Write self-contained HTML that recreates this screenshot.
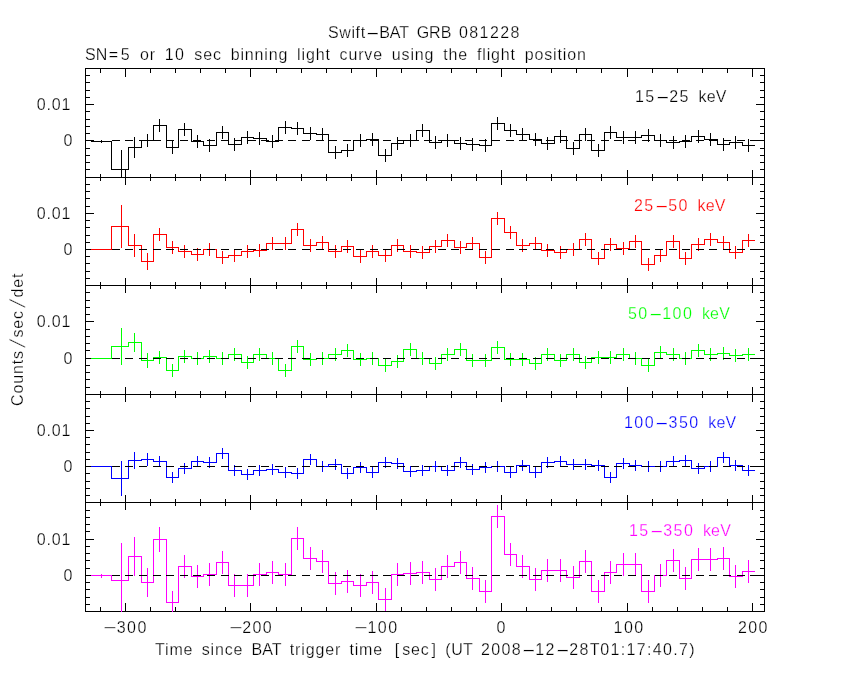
<!DOCTYPE html>
<html><head><meta charset="utf-8"><title>Swift-BAT GRB 081228</title>
<style>
html,body{margin:0;padding:0;background:#fff}
body{width:850px;height:680px;position:relative;overflow:hidden;font-family:"Liberation Sans",sans-serif}
.t{-webkit-text-stroke:0.25px #fff;position:absolute;white-space:pre;font-size:16px;line-height:12px;height:12px;color:#000}
.c{text-align:center}
.d{letter-spacing:1.45px}
.b .d{letter-spacing:1.32px}
.u{letter-spacing:0}
.q{margin:0 1.6px}
.bl{margin:0 2px 0 3.5px}
.br{margin:0 0 0 2px}
.sl{display:inline-block;width:12.6px;text-align:center;letter-spacing:0;transform:skewX(-16deg) scaleY(1.35)}
.h{display:inline-block;width:13.5px;text-align:center;letter-spacing:0;transform:scaleX(2.7)}
.m{transform:scaleX(1.4)}
.r .d{letter-spacing:0.9px}
.r .d:last-child{margin-right:-0.9px}
</style></head><body>
<svg width="850" height="680" viewBox="0 0 850 680" shape-rendering="crispEdges" style="position:absolute;left:0;top:0">
<rect width="850" height="680" fill="#fff"/>
<path d="M85 169.5H90M765 169.5H760M85 162.5H90M765 162.5H760M85 155.5H90M765 155.5H760M85 148.5H90M765 148.5H760M85 140.5H94M765 140.5H756M85 133.5H90M765 133.5H760M85 126.5H90M765 126.5H760M85 119.5H90M765 119.5H760M85 111.5H90M765 111.5H760M85 104.5H94M765 104.5H756M85 97.5H90M765 97.5H760M85 90.5H90M765 90.5H760M85 82.5H90M765 82.5H760M85 75.5H90M765 75.5H760M100.5 68V73M125.5 68V77M150.5 68V73M175.5 68V73M200.5 68V73M225.5 68V73M250.5 68V77M276.5 68V73M301.5 68V73M326.5 68V73M351.5 68V73M376.5 68V77M401.5 68V73M426.5 68V73M451.5 68V73M476.5 68V73M501.5 68V77M526.5 68V73M551.5 68V73M576.5 68V73M601.5 68V73M627.5 68V77M652.5 68V73M677.5 68V73M702.5 68V73M727.5 68V73M752.5 68V77M85 68.5H765" fill="none" stroke="#000" stroke-width="1"/>
<path d="M85 278.5H90M765 278.5H760M85 271.5H90M765 271.5H760M85 263.5H90M765 263.5H760M85 256.5H90M765 256.5H760M85 249.5H94M765 249.5H756M85 242.5H90M765 242.5H760M85 235.5H90M765 235.5H760M85 227.5H90M765 227.5H760M85 220.5H90M765 220.5H760M85 213.5H94M765 213.5H756M85 206.5H90M765 206.5H760M85 198.5H90M765 198.5H760M85 191.5H90M765 191.5H760M85 184.5H90M765 184.5H760M100.5 174V181M125.5 170V185M150.5 174V181M175.5 174V181M200.5 174V181M225.5 174V181M250.5 170V185M276.5 174V181M301.5 174V181M326.5 174V181M351.5 174V181M376.5 170V185M401.5 174V181M426.5 174V181M451.5 174V181M476.5 174V181M501.5 170V185M526.5 174V181M551.5 174V181M576.5 174V181M601.5 174V181M627.5 170V185M652.5 174V181M677.5 174V181M702.5 174V181M727.5 174V181M752.5 170V185M85 177.5H765" fill="none" stroke="#000" stroke-width="1"/>
<path d="M85 387.5H90M765 387.5H760M85 379.5H90M765 379.5H760M85 372.5H90M765 372.5H760M85 365.5H90M765 365.5H760M85 358.5H94M765 358.5H756M85 350.5H90M765 350.5H760M85 343.5H90M765 343.5H760M85 336.5H90M765 336.5H760M85 329.5H90M765 329.5H760M85 321.5H94M765 321.5H756M85 314.5H90M765 314.5H760M85 307.5H90M765 307.5H760M85 300.5H90M765 300.5H760M85 292.5H90M765 292.5H760M100.5 282V289M125.5 278V293M150.5 282V289M175.5 282V289M200.5 282V289M225.5 282V289M250.5 278V293M276.5 282V289M301.5 282V289M326.5 282V289M351.5 282V289M376.5 278V293M401.5 282V289M426.5 282V289M451.5 282V289M476.5 282V289M501.5 278V293M526.5 282V289M551.5 282V289M576.5 282V289M601.5 282V289M627.5 278V293M652.5 282V289M677.5 282V289M702.5 282V289M727.5 282V289M752.5 278V293M85 285.5H765" fill="none" stroke="#000" stroke-width="1"/>
<path d="M85 495.5H90M765 495.5H760M85 488.5H90M765 488.5H760M85 481.5H90M765 481.5H760M85 473.5H90M765 473.5H760M85 466.5H94M765 466.5H756M85 459.5H90M765 459.5H760M85 452.5H90M765 452.5H760M85 444.5H90M765 444.5H760M85 437.5H90M765 437.5H760M85 430.5H94M765 430.5H756M85 423.5H90M765 423.5H760M85 416.5H90M765 416.5H760M85 408.5H90M765 408.5H760M85 401.5H90M765 401.5H760M100.5 391V398M125.5 387V402M150.5 391V398M175.5 391V398M200.5 391V398M225.5 391V398M250.5 387V402M276.5 391V398M301.5 391V398M326.5 391V398M351.5 391V398M376.5 387V402M401.5 391V398M426.5 391V398M451.5 391V398M476.5 391V398M501.5 387V402M526.5 391V398M551.5 391V398M576.5 391V398M601.5 391V398M627.5 387V402M652.5 391V398M677.5 391V398M702.5 391V398M727.5 391V398M752.5 387V402M85 394.5H765" fill="none" stroke="#000" stroke-width="1"/>
<path d="M85 604.5H90M765 604.5H760M85 597.5H90M765 597.5H760M85 589.5H90M765 589.5H760M85 582.5H90M765 582.5H760M85 575.5H94M765 575.5H756M85 568.5H90M765 568.5H760M85 560.5H90M765 560.5H760M85 553.5H90M765 553.5H760M85 546.5H90M765 546.5H760M85 539.5H94M765 539.5H756M85 531.5H90M765 531.5H760M85 524.5H90M765 524.5H760M85 517.5H90M765 517.5H760M85 510.5H90M765 510.5H760M100.5 499V506M100.5 612V607M125.5 495V510M125.5 612V603M150.5 499V506M150.5 612V607M175.5 499V506M175.5 612V607M200.5 499V506M200.5 612V607M225.5 499V506M225.5 612V607M250.5 495V510M250.5 612V603M276.5 499V506M276.5 612V607M301.5 499V506M301.5 612V607M326.5 499V506M326.5 612V607M351.5 499V506M351.5 612V607M376.5 495V510M376.5 612V603M401.5 499V506M401.5 612V607M426.5 499V506M426.5 612V607M451.5 499V506M451.5 612V607M476.5 499V506M476.5 612V607M501.5 495V510M501.5 612V603M526.5 499V506M526.5 612V607M551.5 499V506M551.5 612V607M576.5 499V506M576.5 612V607M601.5 499V506M601.5 612V607M627.5 495V510M627.5 612V603M652.5 499V506M652.5 612V607M677.5 499V506M677.5 612V607M702.5 499V506M702.5 612V607M727.5 499V506M727.5 612V607M752.5 495V510M752.5 612V603M85 502.5H765M85 611.5H765" fill="none" stroke="#000" stroke-width="1"/>
<path d="M85.5 68V612M764.5 68V612" fill="none" stroke="#000" stroke-width="1"/>
<clipPath id="c0"><rect x="85" y="68" width="680" height="110"/></clipPath>
<path d="M91.0 141.5H111.5V169.5H128.5V147.5H141.5V140.5H153.5V125.5H166.5V147.5H178.5V129.5H191.5V141.5H203.5V145.5H216.5V132.5H228.5V144.5H241.5V137.5H253.5V138.5H266.5V141.5H278.5V127.5H291.5V128.5H303.5V133.5H316.5V134.5H328.5V152.5H341.5V150.5H353.5V140.5H366.5V139.5H378.5V155.5H391.5V143.5H403.5V140.5H416.5V130.5H429.5V142.5H441.5V140.5H454.5V143.5H466.5V144.5H479.5V145.5H491.5V123.5H504.5V130.5H516.5V134.5H529.5V139.5H541.5V143.5H554.5V136.5H566.5V148.5H579.5V134.5H591.5V150.5H604.5V132.5H616.5V137.5H629.5V137.5H641.5V135.5H654.5V140.5H666.5V142.5H679.5V141.5H691.5V136.5H704.5V139.5H717.5V144.5H729.5V142.5H742.5V145.5H755.0" fill="none" stroke="#000000" stroke-width="1" clip-path="url(#c0)"/>
<path d="M101.5 140V143M121.5 150V189M134.5 137V158M147.5 134V147M159.5 119V132M172.5 141V154M184.5 123V136M197.5 135V148M209.5 139V152M222.5 126V139M234.5 138V151M247.5 131V144M259.5 132V145M272.5 135V148M285.5 121V134M297.5 122V135M310.5 127V140M322.5 128V141M335.5 146V159M347.5 144V157M360.5 134V147M372.5 133V146M385.5 149V162M397.5 137V150M410.5 134V147M422.5 124V137M435.5 136V149M447.5 134V147M460.5 137V150M472.5 138V151M485.5 139V152M497.5 117V130M510.5 124V137M522.5 128V141M535.5 133V146M547.5 137V150M560.5 130V143M573.5 142V155M585.5 128V141M598.5 144V157M610.5 126V139M623.5 131V144M635.5 131V144M648.5 129V142M660.5 134V147M673.5 136V149M685.5 135V148M698.5 130V143M710.5 133V146M723.5 138V151M735.5 136V149M748.5 139V152" fill="none" stroke="#000000" stroke-width="1" clip-path="url(#c0)"/>
<path d="M112 140.5H120M125 140.5H133M139 140.5H147M153 140.5H161M166 140.5H174M180 140.5H188M193 140.5H201M207 140.5H215M221 140.5H229M234 140.5H242M248 140.5H256M261 140.5H269M275 140.5H283M288 140.5H296M302 140.5H310M316 140.5H324M329 140.5H337M343 140.5H351M356 140.5H364M370 140.5H378M383 140.5H391M397 140.5H405M411 140.5H419M424 140.5H432M438 140.5H446M451 140.5H459M465 140.5H473M479 140.5H487M492 140.5H500M506 140.5H514M519 140.5H527M533 140.5H541M546 140.5H554M560 140.5H568M574 140.5H582M587 140.5H595M601 140.5H609M614 140.5H622M628 140.5H636M642 140.5H650M655 140.5H663M669 140.5H677M682 140.5H690M696 140.5H704M709 140.5H717M723 140.5H731M737 140.5H745M750 140.5H758M764 140.5H764" fill="none" stroke="#000" stroke-width="1"/>
<clipPath id="c1"><rect x="85" y="177" width="680" height="109"/></clipPath>
<path d="M91.0 249.5H111.5V226.5H128.5V245.5H141.5V261.5H153.5V234.5H166.5V247.5H178.5V251.5H191.5V254.5H203.5V249.5H216.5V257.5H228.5V255.5H241.5V251.5H253.5V250.5H266.5V243.5H278.5V243.5H291.5V229.5H303.5V245.5H316.5V242.5H328.5V251.5H341.5V246.5H353.5V256.5H366.5V251.5H378.5V255.5H391.5V245.5H403.5V251.5H416.5V252.5H429.5V246.5H441.5V240.5H454.5V247.5H466.5V243.5H479.5V257.5H491.5V218.5H504.5V232.5H516.5V245.5H529.5V243.5H541.5V250.5H554.5V252.5H566.5V249.5H579.5V239.5H591.5V258.5H604.5V244.5H616.5V248.5H629.5V241.5H641.5V264.5H654.5V255.5H666.5V241.5H679.5V258.5H691.5V244.5H704.5V239.5H717.5V242.5H729.5V252.5H742.5V240.5H755.0" fill="none" stroke="#ff0000" stroke-width="1" clip-path="url(#c1)"/>
<path d="M121.5 205V248M134.5 234V257M147.5 253V270M159.5 228V241M172.5 241V254M184.5 245V258M197.5 248V261M209.5 243V256M222.5 251V264M234.5 249V262M247.5 245V258M259.5 244V257M272.5 237V250M285.5 237V250M297.5 223V236M310.5 239V252M322.5 236V249M335.5 245V258M347.5 240V253M360.5 250V263M372.5 245V258M385.5 249V262M397.5 239V252M410.5 245V258M422.5 246V259M435.5 240V253M447.5 234V247M460.5 241V254M472.5 237V250M485.5 251V264M497.5 212V225M510.5 226V239M522.5 239V252M535.5 237V250M547.5 244V257M560.5 246V259M573.5 243V256M585.5 233V246M598.5 252V265M610.5 238V251M623.5 242V255M635.5 235V248M648.5 258V271M660.5 249V262M673.5 235V248M685.5 252V265M698.5 238V251M710.5 233V246M723.5 236V249M735.5 246V259M748.5 234V247" fill="none" stroke="#ff0000" stroke-width="1" clip-path="url(#c1)"/>
<path d="M112 249.5H120M125 249.5H133M139 249.5H147M153 249.5H161M166 249.5H174M180 249.5H188M193 249.5H201M207 249.5H215M221 249.5H229M234 249.5H242M248 249.5H256M261 249.5H269M275 249.5H283M288 249.5H296M302 249.5H310M316 249.5H324M329 249.5H337M343 249.5H351M356 249.5H364M370 249.5H378M383 249.5H391M397 249.5H405M411 249.5H419M424 249.5H432M438 249.5H446M451 249.5H459M465 249.5H473M479 249.5H487M492 249.5H500M506 249.5H514M519 249.5H527M533 249.5H541M546 249.5H554M560 249.5H568M574 249.5H582M587 249.5H595M601 249.5H609M614 249.5H622M628 249.5H636M642 249.5H650M655 249.5H663M669 249.5H677M682 249.5H690M696 249.5H704M709 249.5H717M723 249.5H731M737 249.5H745M750 249.5H758M764 249.5H764" fill="none" stroke="#000" stroke-width="1"/>
<clipPath id="c2"><rect x="85" y="285" width="680" height="110"/></clipPath>
<path d="M91.0 358.5H111.5V346.5H128.5V342.5H141.5V360.5H153.5V357.5H166.5V370.5H178.5V356.5H191.5V358.5H203.5V356.5H216.5V358.5H228.5V354.5H241.5V362.5H253.5V354.5H266.5V358.5H278.5V370.5H291.5V346.5H303.5V359.5H316.5V358.5H328.5V354.5H341.5V350.5H353.5V359.5H366.5V358.5H378.5V365.5H391.5V361.5H403.5V349.5H416.5V358.5H429.5V363.5H441.5V354.5H454.5V349.5H466.5V360.5H479.5V360.5H491.5V347.5H504.5V359.5H516.5V359.5H529.5V363.5H541.5V354.5H554.5V360.5H566.5V354.5H579.5V362.5H591.5V357.5H604.5V357.5H616.5V354.5H629.5V358.5H641.5V365.5H654.5V352.5H666.5V354.5H679.5V358.5H691.5V350.5H704.5V354.5H717.5V353.5H729.5V355.5H742.5V354.5H755.0" fill="none" stroke="#00ff00" stroke-width="1" clip-path="url(#c2)"/>
<path d="M121.5 328V365M134.5 333V352M147.5 353V368M159.5 351V364M172.5 364V377M184.5 350V363M197.5 352V365M209.5 350V363M222.5 352V365M234.5 348V361M247.5 356V369M259.5 348V361M272.5 352V365M285.5 364V377M297.5 340V353M310.5 353V366M322.5 352V365M335.5 348V361M347.5 344V357M360.5 353V366M372.5 352V365M385.5 359V372M397.5 355V368M410.5 343V356M422.5 352V365M435.5 357V370M447.5 348V361M460.5 343V356M472.5 354V367M485.5 354V367M497.5 341V354M510.5 353V366M522.5 353V366M535.5 357V370M547.5 348V361M560.5 354V367M573.5 348V361M585.5 356V369M598.5 351V364M610.5 351V364M623.5 348V361M635.5 352V365M648.5 359V372M660.5 346V359M673.5 348V361M685.5 352V365M698.5 344V357M710.5 348V361M723.5 347V360M735.5 349V362M748.5 348V361" fill="none" stroke="#00ff00" stroke-width="1" clip-path="url(#c2)"/>
<path d="M112 358.5H120M125 358.5H133M139 358.5H147M153 358.5H161M166 358.5H174M180 358.5H188M193 358.5H201M207 358.5H215M221 358.5H229M234 358.5H242M248 358.5H256M261 358.5H269M275 358.5H283M288 358.5H296M302 358.5H310M316 358.5H324M329 358.5H337M343 358.5H351M356 358.5H364M370 358.5H378M383 358.5H391M397 358.5H405M411 358.5H419M424 358.5H432M438 358.5H446M451 358.5H459M465 358.5H473M479 358.5H487M492 358.5H500M506 358.5H514M519 358.5H527M533 358.5H541M546 358.5H554M560 358.5H568M574 358.5H582M587 358.5H595M601 358.5H609M614 358.5H622M628 358.5H636M642 358.5H650M655 358.5H663M669 358.5H677M682 358.5H690M696 358.5H704M709 358.5H717M723 358.5H731M737 358.5H745M750 358.5H758M764 358.5H764" fill="none" stroke="#000" stroke-width="1"/>
<clipPath id="c3"><rect x="85" y="394" width="680" height="109"/></clipPath>
<path d="M91.0 466.5H111.5V478.5H128.5V460.5H141.5V459.5H153.5V461.5H166.5V477.5H178.5V468.5H191.5V461.5H203.5V462.5H216.5V453.5H228.5V470.5H241.5V474.5H253.5V470.5H266.5V469.5H278.5V472.5H291.5V473.5H303.5V459.5H316.5V466.5H328.5V464.5H341.5V473.5H353.5V467.5H366.5V472.5H378.5V462.5H391.5V463.5H403.5V471.5H416.5V470.5H429.5V466.5H441.5V470.5H454.5V462.5H466.5V469.5H479.5V467.5H491.5V466.5H504.5V472.5H516.5V465.5H529.5V472.5H541.5V462.5H554.5V461.5H566.5V464.5H579.5V464.5H591.5V465.5H604.5V477.5H616.5V463.5H629.5V465.5H641.5V466.5H654.5V466.5H666.5V461.5H679.5V460.5H691.5V468.5H704.5V466.5H717.5V457.5H729.5V465.5H742.5V470.5H755.0" fill="none" stroke="#0000ff" stroke-width="1" clip-path="url(#c3)"/>
<path d="M121.5 461V496M134.5 452V469M147.5 453V466M159.5 456V467M172.5 472V483M184.5 463V474M197.5 456V467M209.5 457V468M222.5 448V459M234.5 465V476M247.5 469V480M259.5 465V476M272.5 464V475M285.5 467V478M297.5 468V479M310.5 454V465M322.5 461V472M335.5 459V470M347.5 468V479M360.5 462V473M372.5 467V478M385.5 457V468M397.5 458V469M410.5 466V477M422.5 465V476M435.5 461V472M447.5 465V476M460.5 457V468M472.5 464V475M485.5 462V473M497.5 461V472M510.5 467V478M522.5 460V471M535.5 467V478M547.5 457V468M560.5 456V467M573.5 459V470M585.5 459V470M598.5 460V471M610.5 472V483M623.5 458V469M635.5 460V471M648.5 461V472M660.5 461V472M673.5 456V467M685.5 455V466M698.5 463V474M710.5 461V472M723.5 452V463M735.5 460V471M748.5 465V476" fill="none" stroke="#0000ff" stroke-width="1" clip-path="url(#c3)"/>
<path d="M112 466.5H120M125 466.5H133M139 466.5H147M153 466.5H161M166 466.5H174M180 466.5H188M193 466.5H201M207 466.5H215M221 466.5H229M234 466.5H242M248 466.5H256M261 466.5H269M275 466.5H283M288 466.5H296M302 466.5H310M316 466.5H324M329 466.5H337M343 466.5H351M356 466.5H364M370 466.5H378M383 466.5H391M397 466.5H405M411 466.5H419M424 466.5H432M438 466.5H446M451 466.5H459M465 466.5H473M479 466.5H487M492 466.5H500M506 466.5H514M519 466.5H527M533 466.5H541M546 466.5H554M560 466.5H568M574 466.5H582M587 466.5H595M601 466.5H609M614 466.5H622M628 466.5H636M642 466.5H650M655 466.5H663M669 466.5H677M682 466.5H690M696 466.5H704M709 466.5H717M723 466.5H731M737 466.5H745M750 466.5H758M764 466.5H764" fill="none" stroke="#000" stroke-width="1"/>
<clipPath id="c4"><rect x="85" y="502" width="680" height="110"/></clipPath>
<path d="M91.0 575.5H111.5V580.5H128.5V556.5H141.5V582.5H153.5V539.5H166.5V602.5H178.5V566.5H191.5V576.5H203.5V574.5H216.5V562.5H228.5V585.5H241.5V585.5H253.5V574.5H266.5V572.5H278.5V574.5H291.5V538.5H303.5V558.5H316.5V561.5H328.5V583.5H341.5V581.5H353.5V585.5H366.5V582.5H378.5V599.5H391.5V574.5H403.5V573.5H416.5V572.5H429.5V579.5H441.5V566.5H454.5V562.5H466.5V578.5H479.5V591.5H491.5V516.5H504.5V554.5H516.5V566.5H529.5V579.5H541.5V570.5H554.5V570.5H566.5V577.5H579.5V561.5H591.5V591.5H604.5V572.5H616.5V564.5H629.5V564.5H641.5V591.5H654.5V575.5H666.5V560.5H679.5V578.5H691.5V559.5H704.5V559.5H717.5V558.5H729.5V576.5H742.5V571.5H755.0" fill="none" stroke="#ff00ff" stroke-width="1" clip-path="url(#c4)"/>
<path d="M101.5 574V578M121.5 543V618M134.5 537V576M147.5 568V597M159.5 527V552M172.5 591V614M184.5 555V578M197.5 565V588M209.5 563V586M222.5 551V574M234.5 574V597M247.5 574V597M259.5 563V586M272.5 561V584M285.5 563V586M297.5 527V550M310.5 547V570M322.5 550V573M335.5 572V595M347.5 570V593M360.5 574V597M372.5 571V594M385.5 588V611M397.5 563V586M410.5 562V585M422.5 561V584M435.5 568V591M447.5 555V578M460.5 551V574M472.5 567V590M485.5 580V603M497.5 505V528M510.5 543V566M522.5 555V578M535.5 568V591M547.5 559V582M560.5 559V582M573.5 566V589M585.5 550V573M598.5 580V603M610.5 561V584M623.5 553V576M635.5 553V576M648.5 580V603M660.5 564V587M673.5 549V572M685.5 567V590M698.5 548V571M710.5 548V571M723.5 547V570M735.5 565V588M748.5 560V583" fill="none" stroke="#ff00ff" stroke-width="1" clip-path="url(#c4)"/>
<path d="M112 575.5H120M125 575.5H133M139 575.5H147M153 575.5H161M166 575.5H174M180 575.5H188M193 575.5H201M207 575.5H215M221 575.5H229M234 575.5H242M248 575.5H256M261 575.5H269M275 575.5H283M288 575.5H296M302 575.5H310M316 575.5H324M329 575.5H337M343 575.5H351M356 575.5H364M370 575.5H378M383 575.5H391M397 575.5H405M411 575.5H419M424 575.5H432M438 575.5H446M451 575.5H459M465 575.5H473M479 575.5H487M492 575.5H500M506 575.5H514M519 575.5H527M533 575.5H541M546 575.5H554M560 575.5H568M574 575.5H582M587 575.5H595M601 575.5H609M614 575.5H622M628 575.5H636M642 575.5H650M655 575.5H663M669 575.5H677M682 575.5H690M696 575.5H704M709 575.5H717M723 575.5H731M737 575.5H745M750 575.5H758M764 575.5H764" fill="none" stroke="#000" stroke-width="1"/>
</svg>
<div class="t" style="left:328px;top:27px;letter-spacing:0.6px;word-spacing:2.5px;">Swift<span class="h">-</span><span class="u">BAT</span> <span class="u">GRB</span> <span class="d">081228</span></div>
<div class="t" style="left:85px;top:49px;letter-spacing:0.85px;word-spacing:3.6px;"><span class="u">SN</span><span class="q">=</span><span class="d">5</span> or <span class="d">10</span> sec binning light curve using the flight position</div>
<div class="t b" style="left:155px;top:644px;letter-spacing:0.85px;word-spacing:3.0px;">Time since <span class="u">BAT</span> trigger time <span class="bl">[</span>sec<span class="br">]</span> (<span class="u">UT</span> <span class="d">2008</span><span class="h">-</span><span class="d">12</span><span class="h">-</span><span class="d">28</span>T<span class="d">01:17:40.7</span>)</div>
<div class="t" style="left:635px;top:91px;letter-spacing:0.2px;word-spacing:4.0px;"><span class="d">15</span><span class="h">-</span><span class="d">25</span> keV</div>
<div class="t r" style="right:779.5px;top:99px"><span class="d">0.01</span></div>
<div class="t r" style="right:777.5px;top:135px"><span class="d">0</span></div>
<div class="t" style="left:634px;top:200px;letter-spacing:0.2px;word-spacing:4.0px;color:#ff0000;"><span class="d">25</span><span class="h">-</span><span class="d">50</span> keV</div>
<div class="t r" style="right:779.5px;top:208px"><span class="d">0.01</span></div>
<div class="t r" style="right:777.5px;top:244px"><span class="d">0</span></div>
<div class="t" style="left:628px;top:308px;letter-spacing:0.2px;word-spacing:4.0px;color:#00ff00;"><span class="d">50</span><span class="h">-</span><span class="d">100</span> keV</div>
<div class="t r" style="right:779.5px;top:316px"><span class="d">0.01</span></div>
<div class="t r" style="right:777.5px;top:353px"><span class="d">0</span></div>
<div class="t" style="left:624px;top:417px;letter-spacing:0.2px;word-spacing:4.0px;color:#0000ff;"><span class="d">100</span><span class="h">-</span><span class="d">350</span> keV</div>
<div class="t r" style="right:779.5px;top:425px"><span class="d">0.01</span></div>
<div class="t r" style="right:777.5px;top:461px"><span class="d">0</span></div>
<div class="t" style="left:629px;top:525px;letter-spacing:0.2px;word-spacing:4.0px;color:#ff00ff;"><span class="d">15</span><span class="h">-</span><span class="d">350</span> keV</div>
<div class="t r" style="right:779.5px;top:534px"><span class="d">0.01</span></div>
<div class="t r" style="right:777.5px;top:570px"><span class="d">0</span></div>
<div class="t c" style="left:75.55px;width:100px;top:622px"><span class="h m">−</span><span class="d">300</span></div>
<div class="t c" style="left:200.93px;width:100px;top:622px"><span class="h m">−</span><span class="d">200</span></div>
<div class="t c" style="left:326.31px;width:100px;top:622px"><span class="h m">−</span><span class="d">100</span></div>
<div class="t c" style="left:451.69px;width:100px;top:622px"><span class="d">0</span></div>
<div class="t c" style="left:579.0699999999999px;width:100px;top:622px"><span class="d">100</span></div>
<div class="t c" style="left:703.4499999999999px;width:100px;top:622px"><span class="d">200</span></div>
<div class="t" style="left:0;top:0;letter-spacing:0.85px;transform-origin:0 0;transform:translate(12px,406px) rotate(-90deg)">Counts<span class="sl">/</span>sec<span class="sl">/</span>det</div>
</body></html>
